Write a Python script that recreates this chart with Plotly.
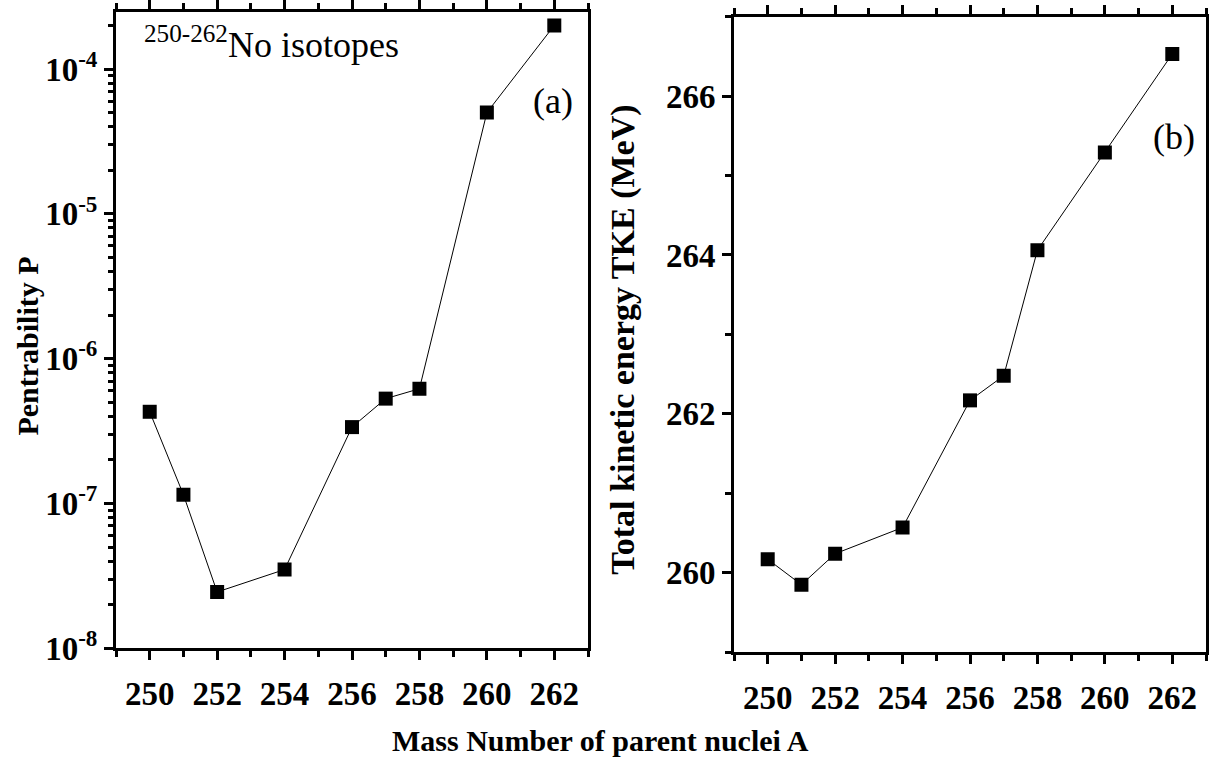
import plotly.graph_objects as go
from plotly.subplots import make_subplots

# Mass numbers of the parent nuclei
mass_a = [250, 251, 252, 254, 256, 257, 258, 260, 262]
# Penetrability P for each parent nucleus
penetrability = [4.3e-7, 1.15e-7, 2.45e-8, 3.5e-8, 3.37e-7, 5.3e-7, 6.2e-7, 5.0e-5, 2.0e-4]
# Total kinetic energy TKE (MeV)
tke = [260.17, 259.85, 260.24, 260.57, 262.17, 262.48, 264.06, 265.29, 266.53]

# Tick labels
x_ticks = [250, 252, 254, 256, 258, 260, 262]
log_ticks = [1e-8, 1e-7, 1e-6, 1e-5, 1e-4]
log_tick_text = ["10<sup>-8</sup>", "10<sup>-7</sup>", "10<sup>-6</sup>", "10<sup>-5</sup>", "10<sup>-4</sup>"]
tke_ticks = [260, 262, 264, 266]

W, H = 1209, 767
FONT = "Liberation Serif, Times New Roman, DejaVu Serif, serif"

fig = make_subplots(rows=1, cols=2)

line_style = dict(color="black", width=1)
marker_style = dict(symbol="square", size=14, color="black")

fig.add_trace(go.Scatter(x=mass_a, y=penetrability, mode="lines+markers",
                         line=line_style, marker=marker_style, showlegend=False), row=1, col=1)
fig.add_trace(go.Scatter(x=mass_a, y=tke, mode="lines+markers",
                         line=line_style, marker=marker_style, showlegend=False), row=1, col=2)

def px(x):
    return x / W

def py(y):
    return 1 - y / H

tick_font = dict(family=FONT, size=33, color="black", weight="bold")

x_common = dict(range=[249, 263], tickmode="array", tickvals=x_ticks,
                ticks="outside", ticklen=9, tickwidth=3, tickcolor="black",
                ticklabelstandoff=5,
                showline=True, linewidth=3, linecolor="black", mirror="ticks",
                showgrid=False, zeroline=False, tickfont=tick_font,
                minor=dict(tickmode="array", tickvals=[249, 251, 253, 255, 257, 259, 261, 263],
                           ticks="outside", ticklen=6, tickwidth=3, tickcolor="black", showgrid=False))

fig.update_xaxes(domain=[px(116), px(588)], **x_common, row=1, col=1)
fig.update_xaxes(domain=[px(734), px(1206)], **x_common, row=1, col=2)

minor_log = [k * 10.0 ** e for e in range(-8, -3) for k in range(2, 10)]
minor_log = [v for v in minor_log if v < 10 ** -3.605]

fig.update_yaxes(domain=[py(664), py(6)], type="log", range=[-8, -3.605],
                 tickmode="array", tickvals=log_ticks, ticktext=log_tick_text,
                 ticks="outside", ticklen=9, tickwidth=3, tickcolor="black",
                 showline=True, linewidth=3, linecolor="black", mirror=True,
                 showgrid=False, zeroline=False, tickfont=tick_font,
                 minor=dict(tickmode="array", tickvals=minor_log, ticks="outside",
                            ticklen=5, tickwidth=3, tickcolor="black", showgrid=False),
                 row=1, col=1)

fig.update_yaxes(domain=[py(668), py(11)], range=[259, 267],
                 tickmode="array", tickvals=tke_ticks,
                 ticks="outside", ticklen=9, tickwidth=3, tickcolor="black",
                 showline=True, linewidth=3, linecolor="black", mirror=True,
                 showgrid=False, zeroline=False, tickfont=tick_font,
                 minor=dict(tickmode="array", tickvals=[259, 261, 263, 265, 267], ticks="outside",
                            ticklen=6, tickwidth=3, tickcolor="black", showgrid=False),
                 row=1, col=2)

title_font = dict(family=FONT, size=30, color="black", weight="bold")
text_font = dict(family=FONT, size=36, color="black")

annotations = [
    dict(text="Pentrability P", x=px(28), y=py(352), textangle=-90, font=title_font),
    dict(text="Total kinetic energy TKE (MeV)", x=px(623), y=py(345), textangle=-90,
         font=dict(title_font, size=34)),
    dict(text="Mass Number of parent nuclei A", x=px(600), y=py(759), font=title_font),
    dict(text="<sup>250-262</sup>No isotopes", x=px(142), y=py(38), xanchor="left", font=text_font),
    dict(text="(a)", x=px(553), y=py(98), font=text_font),
    dict(text="(b)", x=px(1174), y=py(135), font=text_font),
]
for a in annotations:
    a.setdefault("xanchor", "center")
    fig.add_annotation(xref="paper", yref="paper", showarrow=False, yanchor="middle", **a)

fig.update_layout(width=W, height=H, margin=dict(l=0, r=0, t=0, b=0),
                  plot_bgcolor="white", paper_bgcolor="white",
                  font=dict(family=FONT, color="black"))

fig.write_html("out.html")
